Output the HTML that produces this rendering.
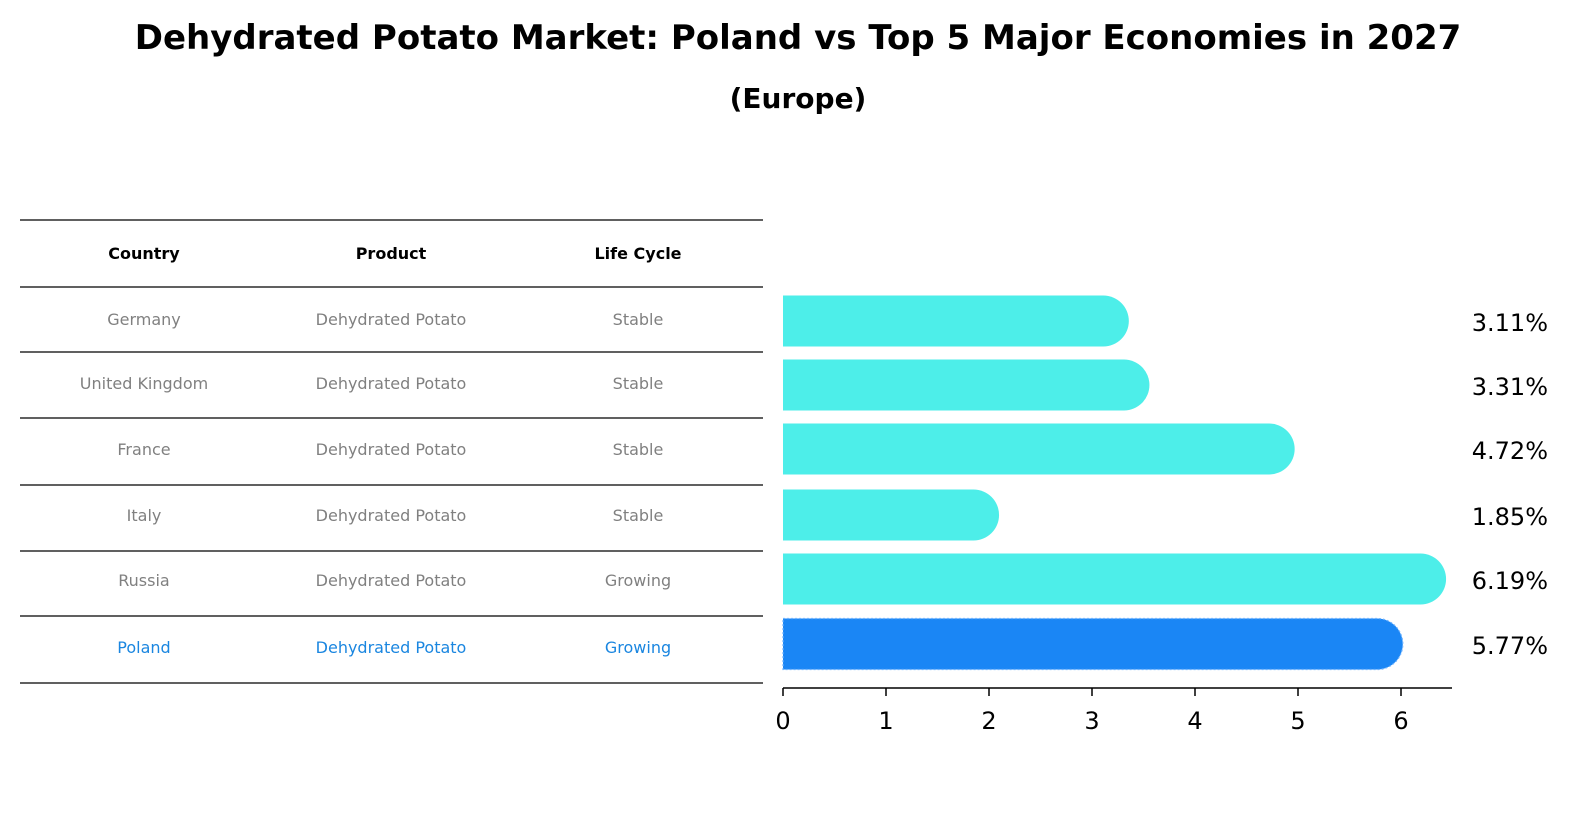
<!DOCTYPE html>
<html><head><meta charset="utf-8"><style>
body{margin:0;background:#fff;font-family:"Liberation Sans","DejaVu Sans",sans-serif;}
</style></head><body>
<svg width="1586" height="823" xmlns="http://www.w3.org/2000/svg" font-family="DejaVu Sans, Liberation Sans, sans-serif">
<text x="798" y="49" text-anchor="middle" font-size="34" font-weight="bold">Dehydrated Potato Market: Poland vs Top 5 Major Economies in 2027</text>
<text x="798" y="108" text-anchor="middle" font-size="28" font-weight="bold">(Europe)</text>
<g id="table"></g>
<g id="bars"></g>
</svg>
<script>
const countries=["Germany","United Kingdom","France","Italy","Russia","Poland"];
const products=["Dehydrated Potato","Dehydrated Potato","Dehydrated Potato","Dehydrated Potato","Dehydrated Potato","Dehydrated Potato"];
const lifeCycles=["Stable","Stable","Stable","Stable","Growing","Growing"];
const values=[3.11,3.31,4.72,1.85,6.19,5.77];
const ticks=[0,1,2,3,4,5,6];
const NS="http://www.w3.org/2000/svg";
function mk(tag,attrs,parent,text){const e=document.createElementNS(NS,tag);for(const k in attrs)e.setAttribute(k,attrs[k]);if(text!==undefined)e.textContent=text;parent.appendChild(e);return e;}
const tbl=document.getElementById('table'),bars=document.getElementById('bars');
// table
const lines=[220,287,352,418,485,551,616,683];
lines.forEach((y,i)=>{const l=mk('line',{x1:20,x2:763,y1:y,y2:y,stroke:'#000','stroke-width':1.2},tbl);

});
const colX=[144,391,638];
["Country","Product","Life Cycle"].forEach((h,i)=>{const t=mk('text',{x:colX[i],y:259,'text-anchor':'middle','font-size':16,'font-weight':'bold'},tbl,h);

});
const rowY=[321,385,451,517,582,649];
countries.forEach((c,i)=>{const col=c==="Poland"?'#1a86e0':'#808080';
[c,products[i],lifeCycles[i]].forEach((v,j)=>{const t=mk('text',{x:colX[j],y:rowY[i]+4,'text-anchor':'middle','font-size':16,fill:col},tbl,v);

});});
// bars
const x0=783,ppu=103;const xs=v=>x0+v*ppu;
const barY=[321,385,449,515,579,644],bh=51,r=25.5;
values.forEach((v,i)=>{const isP=countries[i]==="Poland";const fill=isP?'#1a86f5':'#4deee9';
const y=barY[i]-bh/2,xe=xs(v);
const p=mk('path',{d:`M${x0},${y} H${xe} A${r},${r} 0 0 1 ${xe},${y+bh} H${x0} Z`,fill:fill},bars);
if(isP){p.setAttribute('stroke','#6fb3ff');p.setAttribute('stroke-dasharray','2,2');p.setAttribute('stroke-width','1.2');}


const t=mk('text',{x:1548,y:barY[i]+10,'text-anchor':'end','font-size':24},bars,v.toFixed(2)+'%');

});
const ax=mk('line',{x1:x0,x2:1452,y1:688,y2:688,stroke:'#000','stroke-width':1.5},bars);


ticks.forEach(t=>{const l=mk('line',{x1:xs(t),x2:xs(t),y1:688,y2:696,stroke:'#000','stroke-width':1.5},bars);


const tx=mk('text',{x:xs(t),y:729,'text-anchor':'middle','font-size':24},bars,String(t));

});
</script>
</body></html>
